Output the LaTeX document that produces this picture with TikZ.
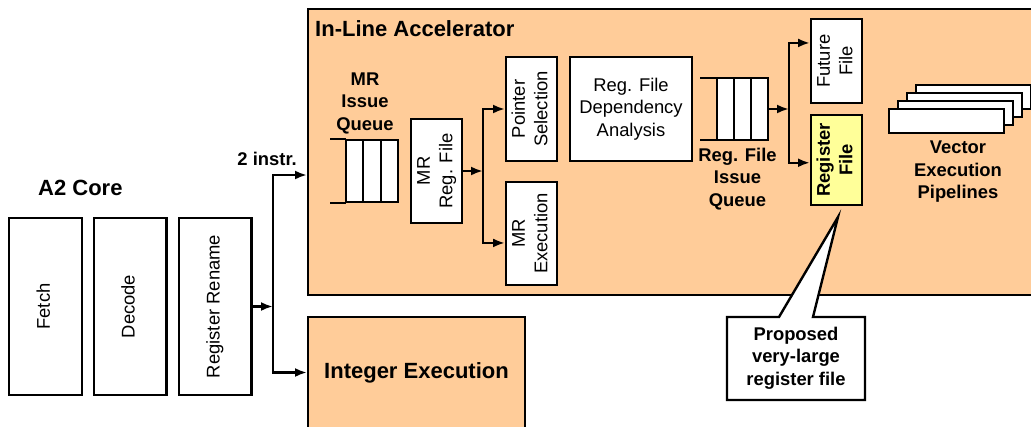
\documentclass[tikz,border=0pt]{standalone}
\usepackage{fontspec}
\setmainfont{Liberation Sans}
\usepackage{graphicx}
\usetikzlibrary{arrows.meta,calc}
\definecolor{peach}{HTML}{FFCC99}
\definecolor{lyellow}{HTML}{FFFF99}
\newcommand{\myvt}[1]{\rotatebox{90}{\begin{tabular}{@{}c@{}}#1\end{tabular}}}
\begin{document}
\begin{tikzpicture}[x=1pt,y=-1pt,
  every node/.style={inner sep=0pt,font=\fontsize{18.4}{22.5}\selectfont},
  box/.style={draw,line width=2.4pt,fill=white,align=center},
  area/.style={draw,line width=2.4pt,fill=peach},
  big/.style={font=\fontsize{22}{26}\selectfont\bfseries},
  bl/.style={font=\fontsize{18.4}{22.5}\selectfont\bfseries,align=center},
  arr/.style={line width=2.4pt,-{Latex[length=12pt,width=9pt]}},
  ln/.style={line width=2.4pt},
  tall/.style={box,minimum width=72.6,minimum height=176.6},
  narrow/.style={box,minimum width=50.6},
  pipe/.style={box,minimum width=114.6,minimum height=23.6}]
\useasboundingbox (0,0) rectangle (1031,426);
\clip (0,0) rectangle (1031,426);

% big areas
\node[area,minimum width=750.6,minimum height=285.6] (acc) at (683.5,152) {};
\node[area,big,minimum width=216.6,minimum height=110.6] (ie) at (416.5,372.5) {Integer Execution};
\node[big,anchor=base west] (acct) at (315,36) {In-Line Accelerator};

% A2 core
\node[big,anchor=base west] (a2) at (38,195) {A2 Core};
\node[tall] (fetch) at (45.5,306.5) {\myvt{Fetch}};
\node[tall] (decode) at (130,306.5) {\myvt{Decode}};
\node[tall] (rr) at (215,306.5) {\myvt{Register Rename}};
\node[bl,anchor=base east] (two) at (297,165) {2 instr.};

\coordinate (j1) at (273,306.5);
\coordinate (in1) at (0,175);
\draw[arr] (rr.east) -- (j1);
\draw[arr] (j1) |- (acc.west |- in1);
\draw[arr] (j1) |- (ie.west);

% MR issue queue
\node[bl] (mrql) at (365,103) {MR\\Issue\\Queue};
\node[box,minimum width=51.6,minimum height=61.6] (q1) at (372,171) {};
\draw[ln] (330,139.2) -- (346,139.2) (330,202.8) -- (346,202.8)
          (363,139.2) -- (363,202.8) (381,139.2) -- (381,202.8);

% MR reg file and branches
\node[narrow,minimum height=103.6] (mrrf) at (436.5,171) {\myvt{MR\\Reg. File}};
\node[narrow,minimum height=103.6] (ps) at (531.5,109) {\myvt{Pointer\\Selection}};
\node[narrow,minimum height=102.6] (mre) at (531.5,233.5) {\myvt{MR\\Execution}};
\coordinate (j2) at (483,171);
\draw[arr] (mrrf.east) -- (j2);
\draw[arr] (j2) |- (ps.west);
\draw[arr] (j2) |- ($(mre.south west)!0.41!(mre.north west)$);

% dependency analysis
\node[box,minimum width=121.6,minimum height=103.6] (rfda) at (631,109) {Reg. File\\Dependency\\Analysis};

% reg file issue queue
\node[box,minimum width=50.6,minimum height=61.6] (q2) at (742.5,109) {};
\draw[ln] (700,78.2) -- (718,78.2) (700,139.8) -- (718,139.8)
          (734,78.2) -- (734,139.8) (751,78.2) -- (751,139.8);
\node[bl] (q2l) at (737.5,179) {Reg. File\\Issue\\Queue};

% files
\node[narrow,minimum height=83.6] (ff) at (836.5,61) {\myvt{Future\\File}};
\node[narrow,minimum height=89.6,fill=lyellow,font=\fontsize{18.4}{22.5}\selectfont\bfseries] (rf) at (836.5,160) {\myvt{Register\\File}};
\coordinate (j3) at (789,109);
\draw[arr] (q2.east) -- (j3);
\draw[arr] (j3) |- ($(ff.south west)!0.71!(ff.north west)$);
\draw[arr] (j3) |- ($(rf.south west)!0.47!(rf.north west)$);

% vector pipelines
\node[pipe] (vp4) at (973.5,97) {};
\node[pipe] (vp3) at (964.5,105) {};
\node[pipe] (vp2) at (955.5,113) {};
\node[pipe] (vp1) at (946.5,121) {};
\node[bl] (vpl) at (958,172) {Vector\\Execution\\Pipelines};

% callout
\coordinate (tip) at ($(rf.south)+(1.5,11)$);
\draw[ln,fill=white,line join=miter] (727,317) -- (779,317) -- (tip) -- (813,317)
  -- (865,317) -- (865,400) -- (727,400) -- cycle;
\node[bl] (prop) at (796,358) {Proposed\\very-large\\register file};
\end{tikzpicture}
\end{document}
